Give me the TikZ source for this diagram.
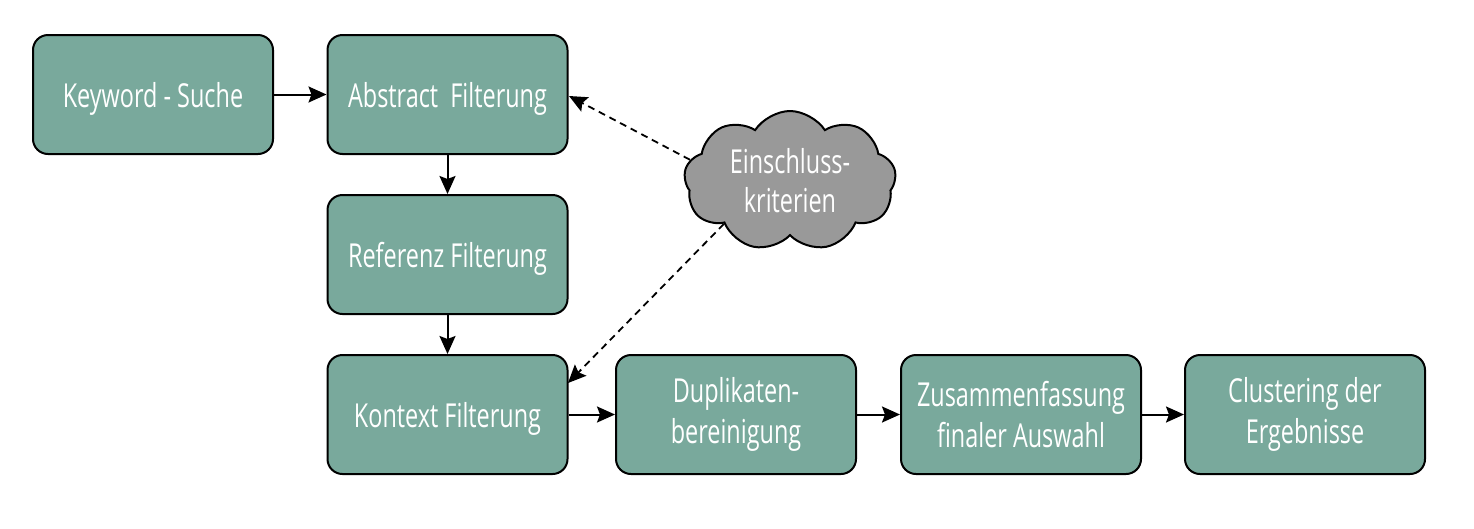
\documentclass[tikz,border=0pt]{standalone}
\usepackage{fontspec}
\setmainfont{Open Sans}[FakeStretch=0.71]
\usetikzlibrary{shapes.symbols,arrows.meta}
\definecolor{boxgreen}{HTML}{79A99C}
\definecolor{cloudgray}{HTML}{999999}
\tikzset{
  stepbox/.style={draw=black, line width=2pt, fill=boxgreen, rounded corners=15pt,
    minimum width=240pt, minimum height=119pt, inner sep=0pt, align=center,
    text=white, font=\fontsize{33}{41}\selectfont},
  oneline/.style={text depth=0pt},
  flow/.style={-{Stealth[length=18pt,width=16pt,inset=3pt]}, line width=2pt},
  dflow/.style={-{Stealth[length=18pt,width=16pt,inset=3pt]}, line width=1.8pt, dash pattern=on 7pt off 5pt},
  cloudbox/.style={cloud, cloud puffs=9, cloud puff arc=115, aspect=1.5, draw=black, line width=2pt,
    fill=cloudgray, minimum width=212pt, minimum height=140pt, inner sep=0pt, align=center,
    text=white, font=\fontsize{33}{39}\selectfont}
}
\begin{document}
\begin{tikzpicture}[x=1pt,y=-1pt]
\useasboundingbox (0,0) rectangle (1474,528);
\node[stepbox,oneline] (kw) at (153,94.5) {Keyword - Suche};
\node[stepbox,oneline] (ab) at (447.5,94.5) {Abstract\ \ Filterung};
\node[stepbox,oneline] (rf) at (447.5,254.5) {Referenz Filterung};
\node[stepbox,oneline] (kt) at (447.5,414.5) {Kontext Filterung};
\node[stepbox] (dp) at (736,414.5) {Duplikaten-\\bereinigung};
\node[stepbox] (zf) at (1021,414.5) {Zusammenfassung\\finaler Auswahl};
\node[stepbox] (cl) at (1305,414.5) {Clustering der\\Ergebnisse};
\node[cloudbox] (ek) at (790,181) {Einschluss-\\kriterien};
\draw[flow] (kw) -- (ab);
\draw[flow] (ab) -- (rf);
\draw[flow] (rf) -- (kt);
\draw[flow] (kt) -- (dp);
\draw[flow] (dp) -- (zf);
\draw[flow] (zf) -- (cl);
\coordinate (abt) at (569,96);
\coordinate (ktt) at (568,383);
\draw[dflow] (ek.168) -- (abt);
\draw[dflow] (ek.213) -- (ktt);
\end{tikzpicture}
\end{document}
